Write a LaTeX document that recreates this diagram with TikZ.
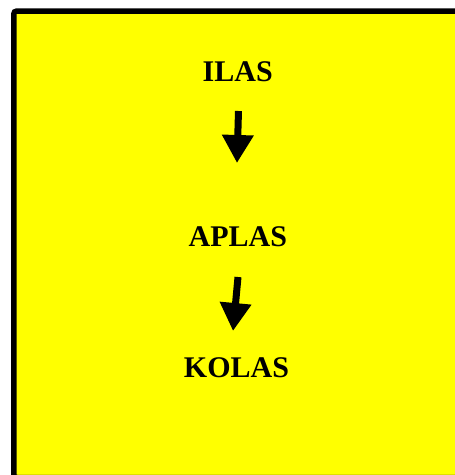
\documentclass[tikz,border=0pt]{standalone}
\usepackage{fontspec}
\setmainfont{Liberation Serif}
\usetikzlibrary{arrows.meta}
\definecolor{bgyellow}{RGB}{255,255,0}
\begin{document}
\begin{tikzpicture}[x=1pt,y=-1pt,
  lbl/.style={font=\fontsize{30}{34}\selectfont\bfseries, inner sep=0pt, anchor=center},
  bigarrow/.style={line width=7pt, -{Triangle[width=30pt,length=28pt]}}]
\useasboundingbox (0,0) rectangle (455,475);
\begin{scope}
\clip (0,0) rectangle (455,475);
\draw[line width=5.5pt, fill=bgyellow, rounded corners=3pt] (13.75,11) rectangle (480,477.5);
\end{scope}
\node[lbl] (ilas) at (237.7,71.5) {ILAS};
\node[lbl] (aplas) at (237.8,237) {APLAS};
\node[lbl] (kolas) at (236.5,368) {KOLAS};
\coordinate (a1s) at (238.5,111);
\coordinate (a1e) at (237,163);
\coordinate (a2s) at (238,277);
\coordinate (a2e) at (233,331);
\draw[bigarrow] (a1s) -- (a1e);
\draw[bigarrow] (a2s) -- (a2e);
\end{tikzpicture}
\end{document}
